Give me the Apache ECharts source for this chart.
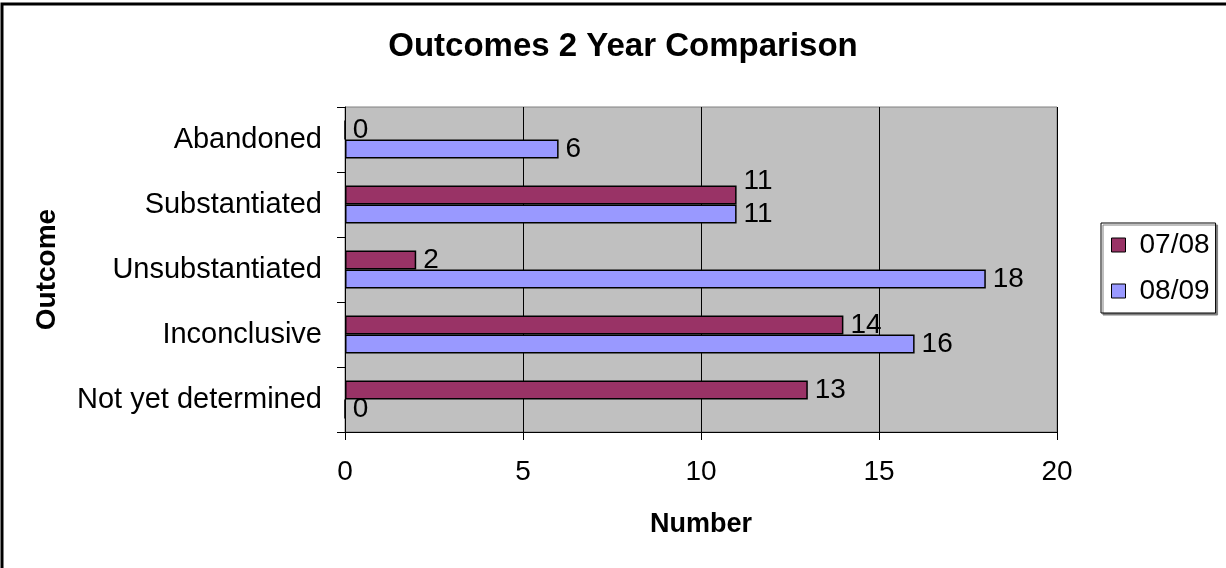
<!DOCTYPE html>
<html>
<head>
<meta charset="utf-8">
<script src="https://cdn.jsdelivr.net/npm/echarts@6/dist/echarts.min.js"></script>
<style>
html,body{margin:0;padding:0;background:#fff;}
#chart{width:1226px;height:568px;}
</style>
</head>
<body>
<div id="chart"></div>
<script>
// Categories listed bottom to top
const categories = ['Not yet determined', 'Inconclusive', 'Unsubstantiated', 'Substantiated', 'Abandoned'];
const seriesNames = ['07/08', '08/09'];
const values0708 = [13, 14, 2, 11, 0];
const values0809 = [0, 16, 18, 11, 6];
const xTicks = { min: 0, max: 20, interval: 5 };

const FONT = '"Liberation Sans", Arial, sans-serif';
const chart = echarts.init(document.getElementById('chart'), null, { renderer: 'canvas' });

const labelStyle = {
  show: true,
  position: 'right',
  distance: 7,
  fontFamily: FONT,
  fontSize: 28,
  color: '#000'
};

chart.setOption({
  backgroundColor: '#fff',
  animation: false,
  title: {
    text: 'Outcomes 2 Year Comparison',
    left: 618,
    textAlign: 'center',
    top: 25,
    textStyle: { fontFamily: FONT, fontSize: 33, fontWeight: 'bold', color: '#000' }
  },
  legend: {
    orient: 'vertical',
    left: 1101,
    top: 223,
    data: [seriesNames[0], seriesNames[1]],
    icon: 'rect',
    itemWidth: 14,
    itemHeight: 14,
    itemGap: 18,
    padding: [8, 6, 8, 10],
    borderColor: '#000',
    borderWidth: 1,
    backgroundColor: '#fff',
    shadowColor: '#808080',
    shadowOffsetX: 2,
    shadowOffsetY: 2,
    shadowBlur: 0,
    itemStyle: { borderColor: '#000', borderWidth: 1 },
    textStyle: { fontFamily: FONT, fontSize: 28, color: '#000', padding: [0, 0, 0, 9] }
  },
  grid: {
    left: 345, right: 169, top: 107, bottom: 136,
    show: true,
    backgroundColor: '#C0C0C0',
    borderColor: '#808080',
    borderWidth: 1
  },
  xAxis: {
    type: 'value',
    min: xTicks.min, max: xTicks.max, interval: xTicks.interval,
    name: 'Number',
    nameLocation: 'middle',
    nameGap: 79,
    nameTextStyle: { fontFamily: FONT, fontSize: 27, fontWeight: 'bold', color: '#000' },
    axisLine: { show: true, lineStyle: { color: '#000', width: 1 } },
    axisTick: { show: true, length: 8, lineStyle: { color: '#000' } },
    axisLabel: { fontFamily: FONT, fontSize: 28, color: '#000', margin: 26 },
    splitLine: { show: true, lineStyle: { color: '#000', width: 1 } }
  },
  yAxis: {
    type: 'category',
    data: categories,
    name: 'Outcome',
    nameLocation: 'middle',
    nameRotate: 90,
    nameGap: 284,
    nameTextStyle: { fontFamily: FONT, fontSize: 28, fontWeight: 'bold', color: '#000' },
    axisLine: { show: true, lineStyle: { color: '#000', width: 1 } },
    axisTick: { show: true, length: 8, alignWithLabel: false, lineStyle: { color: '#000' } },
    axisLabel: { fontFamily: FONT, fontSize: 29, color: '#000', margin: 23 },
    splitLine: { show: false }
  },
  series: [
    {
      name: seriesNames[0],
      type: 'bar',
      data: values0708,
      barWidth: 19,
      barGap: '0%',
      itemStyle: { color: '#993366', borderColor: '#000', borderWidth: 1.5 },
      label: labelStyle,
      labelLayout: function (p) {
        return values0708[p.dataIndex] === values0809[p.dataIndex] && values0708[p.dataIndex] > 0 ? { dy: -14 } : {};
      }
    },
    {
      name: seriesNames[1],
      type: 'bar',
      data: values0809,
      barWidth: 19,
      barGap: '0%',
      itemStyle: { color: '#9999FF', borderColor: '#000', borderWidth: 1.5 },
      label: labelStyle
    }
  ],
  graphic: [
    {
      type: 'rect',
      shape: { x: 2, y: 4, width: 1400, height: 800 },
      style: { fill: 'none', stroke: '#000', lineWidth: 3 },
      silent: true
    }
  ]
});
</script>
</body>
</html>
